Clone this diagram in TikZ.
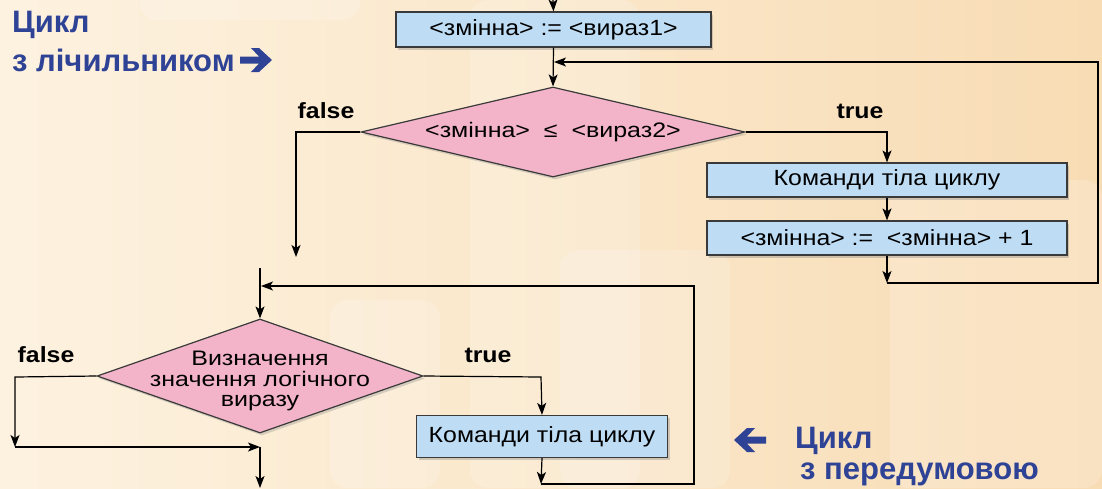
\documentclass[tikz,border=0pt]{standalone}
\usepackage{fontspec}
\setmainfont{Liberation Sans}
\newfontfamily\bxfont[FakeStretch=1.13]{Liberation Sans}
\newfontfamily\dmfont[FakeStretch=1.19]{Liberation Sans}
\usetikzlibrary{shapes.geometric,arrows.meta,shadows}
\definecolor{bgL}{HTML}{FDF2E0}
\definecolor{bgR}{HTML}{F8DCB4}
\definecolor{boxfill}{HTML}{BEDDF5}
\definecolor{diafill}{HTML}{F3B4CA}
\definecolor{ttl}{HTML}{2F4396}
\definecolor{edge}{HTML}{3A3A3A}
\tikzset{
  conn/.style={line width=1.2pt, draw=black},
  arr/.style={conn, -{Stealth[length=12pt,width=9pt,inset=3pt]}},
  boxst/.style={draw=edge, line width=1.2pt, fill=boxfill, rectangle, inner sep=0pt,
    font=\bxfont\fontsize{22}{24}\selectfont,
    drop shadow={opacity=0.35, shadow xshift=2pt, shadow yshift=-2.5pt}},
  diast/.style={draw=edge, line width=1.2pt, fill=diafill, diamond, inner sep=0pt,
    font=\dmfont\fontsize{21}{20.5}\selectfont, align=center,
    drop shadow={opacity=0.3, shadow xshift=2pt, shadow yshift=-2.5pt}},
  dtext/.style={font=\dmfont\fontsize{21}{20.5}\selectfont, align=center, inner sep=0pt},
  lbl/.style={font=\bxfont\bfseries\fontsize{22}{24}\selectfont, inner sep=0pt},
  title/.style={text=ttl, font=\bfseries\fontsize{31}{34}\selectfont, inner sep=0pt, anchor=west},
  tarrow/.style={fill=ttl},
  deco/.style={fill=white, opacity=0.18, rounded corners=18pt},
}
\begin{document}
\begin{tikzpicture}[x=1pt,y=-1pt]
% background
\shade[left color=bgL, right color=bgR] (0,0) rectangle (1102,488);
\useasboundingbox (0,0) rectangle (1102,488);
\fill[deco] (470,0) rectangle (640,488);
\fill[deco] (890,180) rectangle (1102,488);
\fill[deco] (560,250) rectangle (730,488);
\fill[deco] (330,300) rectangle (440,488);
\fill[deco] (140,-20) rectangle (360,20);

% titles
\node[title] (t1a) at (12,25) {Цикл};
\node[title] (t1b) at (12,60) {з лічильником};
\fill[tarrow] (240,56.5) -- (259,56.5) -- (251,48) -- (259,48) -- (272,60) -- (259,72) -- (251,72) -- (259,63.5) -- (240,63.5) -- cycle;
\node[title] (t2a) at (795,441) {Цикл};
\node[title] (t2b) at (800,474) {з передумовою};
\fill[tarrow] (766,436.5) -- (747,436.5) -- (755,428) -- (747,428) -- (734,440) -- (747,452) -- (755,452) -- (747,443.5) -- (766,443.5) -- cycle;

% counter loop
\coordinate (top) at (553,0);
\node[boxst, minimum width=315pt, minimum height=35pt] (b1) at (553.5,29.5) {<змінна> := <вираз1>};
\node[diast, aspect=4.27, minimum width=384pt, minimum height=90pt] (d1) at (553,132) {<змінна>\ \ ≤\ \ <вираз2>};
\coordinate (j1) at (553,62);
\node[lbl] (f1) at (326,111) {false};
\node[lbl] (tr1) at (860,111) {true};
\coordinate (f1a) at (296,132);
\coordinate (f1e) at (296,257);
\coordinate (tr1a) at (887,132);
\node[boxst, minimum width=360pt, minimum height=34pt] (b2) at (887,180) {Команди тіла циклу};
\node[boxst, minimum width=360pt, minimum height=34pt] (b3) at (887,238) {<змінна> :=\ \ <змінна> + 1};
\coordinate (c1) at (887,283);
\coordinate (c2) at (1098,283);
\coordinate (c3) at (1098,62);

\draw[arr] (top) -- (b1.north);
\draw[arr] (b1.south) -- (d1.north);
\draw[arr] (d1.west) -- (f1a) -- (f1e);
\draw[arr] (d1.east) -- (tr1a) -- (b2.north);
\draw[arr] (b2.south) -- (b3.north);
\draw[arr] (b3.south) -- (c1);
\draw[arr] (c1) -- (c2) -- (c3) -- ([xshift=1pt]j1);

% pre-condition loop
\coordinate (top2) at (260,268);
\coordinate (j2) at (260,286);
\node[diast, aspect=2.86, minimum width=326pt, minimum height=114pt] (d2) at (260,376) {};
\node[dtext] (d2t) at (260,381) {Визначення\\значення логічного\\виразу};
\node[lbl] (f2) at (46,355) {false};
\node[lbl] (tr2) at (488,355) {true};
\coordinate (f2a) at (15,377);
\coordinate (f2b) at (15,447);
\coordinate (m2) at (260,447);
\coordinate (e2) at (260,488);
\coordinate (tr2a) at (541,377);
\node[boxst, minimum width=251pt, minimum height=42pt] (b4) at (542,436.5) {Команди тіла циклу};
\coordinate (c4) at (541,484);
\coordinate (c5) at (694,484);
\coordinate (c6) at (694,286);

\draw[arr] (top2) -- (d2.north);
\draw[arr] (d2.west) -- (f2a) -- (f2b);
\draw[arr] (f2b) -- (m2);
\draw[arr] (m2) -- (e2);
\draw[arr] (d2.east) -- (tr2a) -- (b4.north);
\draw[arr] (b4.south) -- (c4);
\draw[arr] (c4) -- (c5) -- (c6) -- ([xshift=1pt]j2);
\end{tikzpicture}
\end{document}
